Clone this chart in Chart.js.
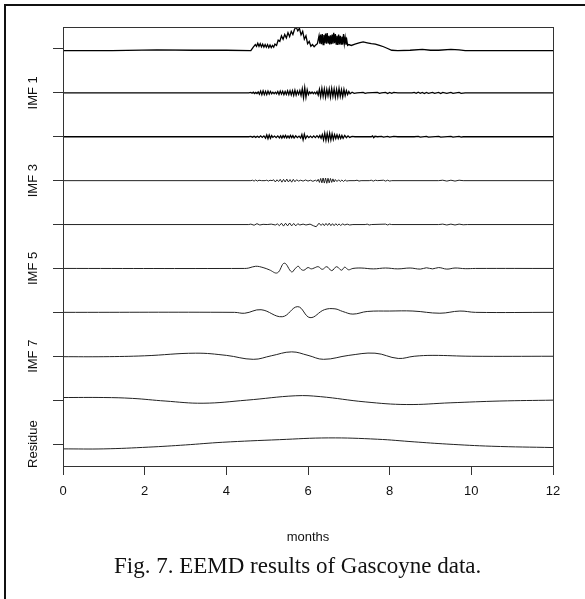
<!DOCTYPE html>
<html lang="en">
<head>
  <meta charset="UTF-8">
  <title>EEMD results of Gascoyne data</title>
  <script src="https://cdn.jsdelivr.net/npm/chart.js"></script>
  <style>
    html, body {
      margin: 0;
      padding: 0;
      background: #fff;
      overflow: hidden;
    }
    body {
      width: 585px;
      height: 599px;
      position: relative;
    }
    .frame {
      position: absolute;
      left: 4px;
      top: 4px;
      width: 700px;
      height: 700px;
      border-left: 2px solid #111;
      border-top: 2px solid #111;
    }
    .wrap {
      position: absolute;
      left: 0;
      top: 0;
      width: 585px;
      height: 560px;
    }
    .caption {
      position: absolute;
      left: 114px;
      top: 554px;
      white-space: nowrap;
      font: 23px "Liberation Serif", "Times New Roman", serif;
      line-height: 23px;
      color: #111;
    }
  </style>
</head>
<body>
  <div class="frame"></div>
  <div class="wrap"><canvas id="eemdChart"></canvas></div>
  <div class="caption">Fig. 7. EEMD results of Gascoyne data.</div>

  <script>
    // rows from top to bottom: original series, IMF 1..8, residue
    const rowOffsets = [10, 9, 8, 7, 6, 5, 4, 3, 2, 1];
    const rowLabels = ['', 'IMF 1', '', 'IMF 3', '', 'IMF 5', '', 'IMF 7', '', 'Residue'];
    const xTicks = [0, 2, 4, 6, 8, 10, 12];

    // [month, value]
    const signal = [[0,-0.04],[1.2,-0.04],[2.3,-0.02],[3.2,-0.03],[4.0,-0.03],[4.6,-0.04],[4.66,0.04],[4.71,0.1],[4.74,0.06],[4.77,0.13],[4.8,0.06],[4.83,0.12],[4.86,0.05],[4.89,0.11],[4.92,0.04],[4.95,0.1],[4.98,0.04],[5.01,0.1],[5.04,0.03],[5.07,0.09],[5.1,0.03],[5.13,0.08],[5.16,0.04],[5.19,0.11],[5.23,0.08],[5.27,0.2],[5.31,0.17],[5.35,0.3],[5.39,0.22],[5.43,0.33],[5.47,0.25],[5.51,0.37],[5.55,0.28],[5.59,0.4],[5.63,0.33],[5.67,0.45],[5.71,0.5],[5.75,0.41],[5.79,0.47],[5.83,0.32],[5.87,0.4],[5.91,0.22],[5.95,0.3],[5.99,0.12],[6.03,0.17],[6.07,0.06],[6.11,0.1],[6.15,0.05],[6.19,0.09],[6.23,0.12],[6.27,0.3],[6.29,0.12],[6.31,0.33],[6.33,0.11],[6.35,0.34],[6.37,0.1],[6.39,0.32],[6.41,0.13],[6.43,0.35],[6.45,0.12],[6.47,0.36],[6.49,0.14],[6.51,0.3],[6.53,0.1],[6.55,0.31],[6.57,0.11],[6.59,0.33],[6.61,0.12],[6.63,0.37],[6.65,0.13],[6.67,0.34],[6.69,0.11],[6.71,0.3],[6.73,0.09],[6.75,0.33],[6.77,0.1],[6.79,0.3],[6.81,0.11],[6.83,0.28],[6.85,0.1],[6.87,0.34],[6.89,0.12],[6.91,0.26],[6.93,0.1],[6.95,0.2],[6.97,0.08],[7.0,0.1],[7.06,0.08],[7.15,0.11],[7.25,0.14],[7.35,0.16],[7.45,0.14],[7.55,0.12],[7.65,0.11],[7.75,0.08],[7.85,0.05],[7.95,0.01],[8.05,-0.03],[8.2,-0.04],[8.5,-0.03],[8.8,-0.01],[9.0,-0.03],[9.2,-0.03],[9.5,-0.01],[9.7,-0.02],[9.85,-0.04],[12,-0.04]];

    const imf1 = [[0,0],[4.55,0],[4.6,0.01],[4.63,-0.01],[4.66,0.015],[4.69,-0.015],[4.72,0.01],[4.75,-0.015],[4.78,0.02],[4.81,-0.03],[4.84,0.04],[4.87,-0.04],[4.9,0.045],[4.93,-0.04],[4.96,0.035],[4.99,-0.04],[5.02,0.04],[5.05,-0.03],[5.08,0.03],[5.11,-0.02],[5.14,0.015],[5.17,-0.02],[5.2,0.015],[5.23,-0.02],[5.26,0.03],[5.29,-0.035],[5.32,0.04],[5.35,-0.03],[5.38,0.035],[5.41,-0.04],[5.44,0.03],[5.47,-0.035],[5.5,0.045],[5.53,-0.04],[5.56,0.05],[5.59,-0.045],[5.62,0.05],[5.65,-0.055],[5.68,0.06],[5.71,-0.05],[5.74,0.04],[5.77,-0.035],[5.8,0.05],[5.83,-0.06],[5.86,0.09],[5.89,-0.11],[5.92,0.12],[5.95,-0.1],[5.98,0.07],[6.01,-0.04],[6.04,0.02],[6.07,-0.015],[6.1,0.02],[6.13,-0.02],[6.16,0.015],[6.19,-0.02],[6.22,0.03],[6.25,-0.05],[6.28,0.08],[6.31,-0.09],[6.34,0.1],[6.37,-0.08],[6.4,0.09],[6.43,-0.1],[6.46,0.08],[6.49,-0.07],[6.52,0.09],[6.55,-0.1],[6.58,0.1],[6.61,-0.08],[6.64,0.09],[6.67,-0.1],[6.7,0.08],[6.73,-0.09],[6.76,0.1],[6.79,-0.08],[6.82,0.07],[6.85,-0.09],[6.88,0.08],[6.91,-0.06],[6.94,0.05],[6.97,-0.04],[7.0,0.03],[7.03,-0.02],[7.08,0.015],[7.13,-0.01],[7.2,0],[7.35,0.01],[7.4,-0.01],[7.45,0],[7.7,0.01],[7.75,-0.01],[7.8,0],[7.9,0.01],[7.95,-0.015],[8.0,0.01],[8.05,-0.01],[8.1,0.01],[8.2,0],[8.55,0],[8.6,0.01],[8.65,-0.01],[8.7,0.015],[8.75,-0.01],[8.8,0.01],[8.85,-0.015],[8.9,0.01],[8.95,-0.01],[9.05,0.01],[9.1,-0.01],[9.2,0.01],[9.25,-0.015],[9.3,0.01],[9.4,-0.01],[9.5,0.01],[9.55,-0.01],[9.7,0.01],[9.75,-0.01],[9.85,0],[12,0]];

    const imf2 = [[0,0],[4.55,0],[4.6,0.01],[4.64,-0.01],[4.68,0.01],[4.72,-0.015],[4.76,0.01],[4.8,-0.015],[4.84,0.02],[4.88,-0.015],[4.92,0.02],[4.96,-0.03],[4.99,0.04],[5.02,-0.045],[5.05,0.04],[5.08,-0.035],[5.11,0.025],[5.14,-0.015],[5.18,0.015],[5.22,-0.02],[5.26,0.02],[5.3,-0.025],[5.33,0.02],[5.36,-0.03],[5.39,0.025],[5.42,-0.02],[5.45,0.03],[5.48,-0.025],[5.51,0.02],[5.54,-0.025],[5.57,0.03],[5.6,-0.02],[5.63,0.025],[5.66,-0.03],[5.7,0.02],[5.74,-0.02],[5.78,0.015],[5.82,-0.03],[5.85,0.05],[5.88,-0.07],[5.91,0.06],[5.94,-0.04],[5.98,0.02],[6.02,-0.02],[6.06,0.015],[6.1,-0.02],[6.14,0.02],[6.18,-0.02],[6.22,0.025],[6.26,-0.02],[6.29,0.03],[6.32,-0.035],[6.35,0.05],[6.38,-0.07],[6.41,0.08],[6.44,-0.08],[6.47,0.075],[6.5,-0.08],[6.53,0.08],[6.56,-0.075],[6.59,0.07],[6.62,-0.06],[6.65,0.05],[6.68,-0.04],[6.71,0.045],[6.74,-0.04],[6.77,0.035],[6.8,-0.04],[6.83,0.03],[6.86,-0.035],[6.9,0.03],[6.94,-0.02],[6.98,0.02],[7.02,-0.015],[7.08,0.01],[7.15,0],[7.55,0],[7.58,0.02],[7.61,-0.02],[7.64,0.01],[7.7,0],[7.8,0.01],[7.85,-0.01],[7.95,0.01],[8.0,-0.01],[8.1,0.01],[8.2,0],[8.6,0],[8.7,0.01],[8.75,-0.01],[8.9,0.01],[8.95,-0.01],[9.2,0.01],[9.25,-0.01],[9.5,0.01],[9.55,-0.01],[9.7,0.01],[9.75,-0.01],[9.8,0],[12,0]];

    const imf3 = [[0,0],[4.6,0],[4.64,0.01],[4.68,-0.01],[4.72,0.015],[4.76,-0.01],[4.8,0.01],[4.86,0],[4.95,0],[4.99,0.01],[5.03,-0.01],[5.07,0.01],[5.12,0],[5.16,0.02],[5.2,-0.03],[5.24,0.02],[5.28,-0.02],[5.32,0.03],[5.36,-0.035],[5.4,0.03],[5.44,-0.03],[5.48,0.035],[5.52,-0.03],[5.56,0.025],[5.6,-0.035],[5.64,0.03],[5.68,-0.025],[5.72,0.02],[5.77,-0.01],[5.82,0.01],[5.88,-0.01],[5.94,0.015],[6.0,-0.01],[6.06,0.01],[6.12,-0.015],[6.18,0.01],[6.22,-0.015],[6.25,0.03],[6.28,-0.04],[6.31,0.05],[6.34,-0.05],[6.37,0.06],[6.4,-0.055],[6.43,0.06],[6.46,-0.06],[6.49,0.055],[6.52,-0.05],[6.55,0.05],[6.58,-0.04],[6.61,0.04],[6.64,-0.03],[6.67,0.025],[6.71,-0.02],[6.75,0.02],[6.79,-0.02],[6.83,0.015],[6.87,-0.02],[6.91,0.015],[6.95,-0.01],[7.0,0],[7.15,0],[7.2,0.01],[7.25,-0.01],[7.3,0],[7.5,0],[7.55,0.01],[7.6,-0.01],[7.65,0.01],[7.7,0],[7.85,0.01],[7.9,-0.01],[7.95,0.01],[8.0,-0.01],[8.05,0],[9.2,0],[9.3,0.01],[9.4,-0.01],[9.5,0.01],[9.6,-0.01],[9.7,0.01],[9.8,0],[12,0]];

    const imf4 = [[0,0],[4.55,0],[4.6,0.01],[4.68,-0.015],[4.75,0.02],[4.82,-0.01],[4.9,0.005],[5.0,0],[5.1,0.01],[5.2,-0.01],[5.25,0.015],[5.3,-0.025],[5.35,0.03],[5.4,-0.035],[5.45,0.03],[5.5,-0.03],[5.55,0.035],[5.6,-0.03],[5.65,0.025],[5.7,-0.03],[5.75,0.02],[5.8,-0.01],[5.88,0.01],[5.95,-0.01],[6.05,0.01],[6.14,-0.03],[6.2,-0.05],[6.27,0.03],[6.32,-0.02],[6.36,0.02],[6.4,-0.025],[6.44,0.025],[6.48,-0.02],[6.52,0.03],[6.56,-0.025],[6.6,0.02],[6.64,-0.025],[6.68,0.02],[6.72,-0.02],[6.76,0.015],[6.8,-0.02],[6.85,0.015],[6.9,-0.01],[6.96,0.01],[7.02,-0.01],[7.1,0],[7.4,0],[7.45,0.01],[7.5,-0.01],[7.55,0],[7.9,0.01],[7.95,-0.01],[8.0,0.01],[8.05,0],[9.2,0],[9.3,0.01],[9.4,-0.01],[9.5,0.01],[9.6,-0.01],[9.7,0.01],[9.8,-0.005],[9.9,0],[12,0]];

    const imf5 = [[0,0],[4.45,0],[4.55,0.01],[4.72,0.05],[4.9,0.02],[5.05,-0.03],[5.25,-0.1],[5.42,0.12],[5.6,-0.08],[5.68,-0.01],[5.76,0.05],[5.83,-0.02],[5.9,-0.04],[6.0,0.02],[6.08,-0.01],[6.15,0.01],[6.25,0.04],[6.35,-0.02],[6.46,0.04],[6.58,-0.05],[6.7,0.04],[6.82,-0.04],[6.9,0.03],[6.99,-0.03],[7.1,0],[7.3,0.01],[7.6,-0.01],[7.9,0.01],[8.2,-0.01],[8.5,0.01],[8.75,-0.015],[8.9,0.015],[9.05,-0.01],[9.2,0.02],[9.4,-0.015],[9.6,0.01],[9.85,-0.005],[10.1,0],[12,0]];

    const imf6 = [[0,0],[4.2,0],[4.45,-0.02],[4.85,0.06],[5.37,-0.1],[5.75,0.13],[6.05,-0.12],[6.4,0.06],[6.66,0.08],[6.85,0.02],[7.1,-0.04],[7.45,0.02],[8.0,0.03],[8.57,0.03],[9.23,-0.02],[9.72,0.03],[10.1,0],[12,0]];

    const imf7 = [[0,-0.01],[1.0,-0.01],[2.0,0.01],[3.25,0.07],[4.0,0.02],[4.66,-0.07],[5.1,0.01],[5.6,0.1],[6.0,0.02],[6.38,-0.07],[7.0,0.02],[7.64,0.07],[8.21,-0.05],[8.6,0.0],[9.06,0.02],[10,0.0],[12,0.0]];

    const imf8 = [[0,0.06],[1.0,0.06],[1.7,0.04],[2.5,-0.02],[3.43,-0.07],[4.5,0.0],[5.7,0.1],[6.3,0.08],[7.4,-0.04],[8.42,-0.1],[9.5,-0.06],[10.7,-0.02],[12,0.0]];

    const residue = [[0,-0.11],[1.0,-0.11],[2.1,-0.07],[3.0,-0.02],[3.9,0.04],[5.3,0.1],[6.5,0.14],[7.7,0.11],[8.6,0.05],[9.4,0.0],[10.5,-0.05],[12,-0.08]];

    const rows = [signal, imf1, imf2, imf3, imf4, imf5, imf6, imf7, imf8, residue];
    const smoothRows = [5, 6, 7, 8, 9];
    const heavyRows = [0, 1, 2];

    const axisFont = { family: '"Liberation Sans", Arial, sans-serif', size: 13 };

    const datasets = rows.map((series, i) => ({
      data: series.map(([t, v]) => ({ x: t, y: rowOffsets[i] + v })),
      borderColor: heavyRows.includes(i) ? '#000' : '#222',
      borderWidth: heavyRows.includes(i) ? 1.3 : 1,
      pointRadius: 0,
      showLine: true,
      tension: smoothRows.includes(i) ? 0.4 : 0
    }));

    // box around the plot and the rotated row names
    const boxAndLabels = {
      id: 'boxAndLabels',
      afterDraw(chart) {
        const { ctx, chartArea: a, scales: { y } } = chart;
        ctx.save();
        ctx.strokeStyle = '#333';
        ctx.lineWidth = 1;
        ctx.strokeRect(a.left + 0.5, a.top + 0.5, a.right - a.left, a.bottom - a.top);
        ctx.font = '13px "Liberation Sans", Arial, sans-serif';
        ctx.fillStyle = '#111';
        ctx.textAlign = 'center';
        ctx.textBaseline = 'middle';
        rowLabels.forEach((lab, i) => {
          if (!lab) return;
          const py = y.getPixelForValue(rowOffsets[i]);
          ctx.save();
          ctx.translate(33, py);
          ctx.rotate(-Math.PI / 2);
          ctx.fillText(lab, 0, 0);
          ctx.restore();
        });
        ctx.restore();
      }
    };

    new Chart(document.getElementById('eemdChart'), {
      type: 'scatter',
      data: { datasets },
      options: {
        responsive: true,
        maintainAspectRatio: false,
        animation: false,
        layout: { padding: { top: 27, right: 32, left: 0, bottom: 0 } },
        plugins: { legend: { display: false }, tooltip: { enabled: false } },
        scales: {
          x: {
            type: 'linear',
            min: 0,
            max: 12,
            afterBuildTicks: s => { s.ticks = xTicks.map(v => ({ value: v })); },
            afterFit: s => { s.height = 94; },
            ticks: { font: axisFont, color: '#111', padding: 9, maxRotation: 0 },
            grid: { drawOnChartArea: false, tickLength: 9, color: '#333' },
            border: { display: true, color: '#333' },
            title: { display: true, text: 'months', font: axisFont, color: '#111', padding: { top: 0, bottom: 15 } }
          },
          y: {
            type: 'linear',
            min: 0.5,
            max: 10.5,
            afterBuildTicks: s => { s.ticks = rowOffsets.map(v => ({ value: v })); },
            afterFit: s => { s.width = 63; },
            ticks: { display: false },
            grid: { drawOnChartArea: false, tickLength: 10, color: '#333' },
            border: { display: true, color: '#333' }
          }
        }
      },
      plugins: [boxAndLabels]
    });
  </script>
</body>
</html>
